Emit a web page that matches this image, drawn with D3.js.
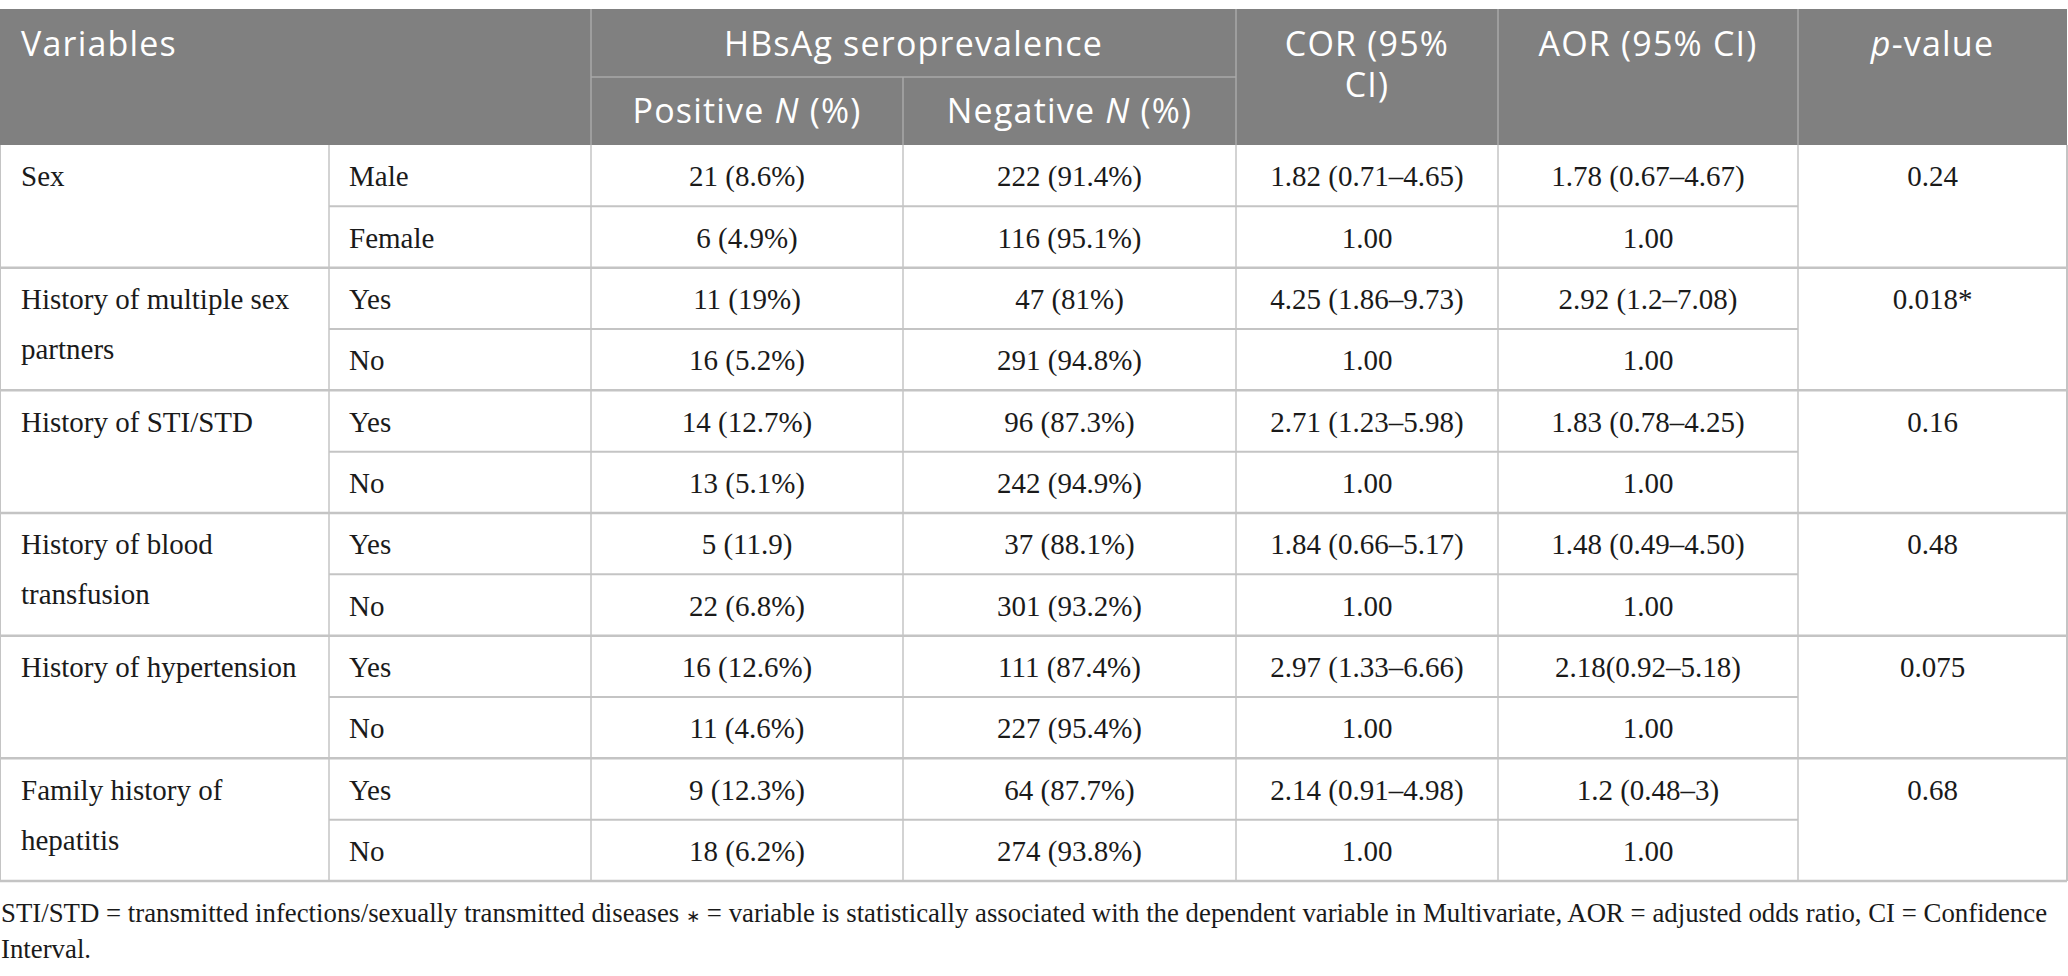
<!DOCTYPE html>
<html>
<head>
<meta charset="utf-8">
<script src="https://cdn.jsdelivr.net/npm/d3@7"></script>
<style>
  html, body { margin: 0; padding: 0; background: #fff; }
  svg { display: block; }
</style>
</head>
<body>
<div id="chart"></div>
<script>
// ---------------- DATA ----------------
const variableLabels = [
  ["Sex"],
  ["History of multiple sex", "partners"],
  ["History of STI/STD"],
  ["History of blood", "transfusion"],
  ["History of hypertension"],
  ["Family history of", "hepatitis"]
];
const levels = [
  ["Male", "Female"],
  ["Yes", "No"],
  ["Yes", "No"],
  ["Yes", "No"],
  ["Yes", "No"],
  ["Yes", "No"]
];
const positiveN = [
  ["21 (8.6%)", "6 (4.9%)"],
  ["11 (19%)", "16 (5.2%)"],
  ["14 (12.7%)", "13 (5.1%)"],
  ["5 (11.9)", "22 (6.8%)"],
  ["16 (12.6%)", "11 (4.6%)"],
  ["9 (12.3%)", "18 (6.2%)"]
];
const negativeN = [
  ["222 (91.4%)", "116 (95.1%)"],
  ["47 (81%)", "291 (94.8%)"],
  ["96 (87.3%)", "242 (94.9%)"],
  ["37 (88.1%)", "301 (93.2%)"],
  ["111 (87.4%)", "227 (95.4%)"],
  ["64 (87.7%)", "274 (93.8%)"]
];
const corValues = [
  ["1.82 (0.71–4.65)", "1.00"],
  ["4.25 (1.86–9.73)", "1.00"],
  ["2.71 (1.23–5.98)", "1.00"],
  ["1.84 (0.66–5.17)", "1.00"],
  ["2.97 (1.33–6.66)", "1.00"],
  ["2.14 (0.91–4.98)", "1.00"]
];
const aorValues = [
  ["1.78 (0.67–4.67)", "1.00"],
  ["2.92 (1.2–7.08)", "1.00"],
  ["1.83 (0.78–4.25)", "1.00"],
  ["1.48 (0.49–4.50)", "1.00"],
  ["2.18(0.92–5.18)", "1.00"],
  ["1.2 (0.48–3)", "1.00"]
];
const pValues = ["0.24", "0.018*", "0.16", "0.48", "0.075", "0.68"];
const footnoteParts = [
  "STI/STD = transmitted infections/sexually transmitted diseases ",
  "\u2217",
  " = variable is statistically associated with the dependent variable in Multivariate, AOR = adjusted odds ratio, CI = Confidence"
];
const footnoteLine2 = "Interval.";

// ---------------- LAYOUT ----------------
const W = 2068, H = 976;
const colEdges = [0, 329, 591, 903, 1236, 1498, 1798, 2067];
const tableTop = 9, headerMid = 77, headerBottom = 145, tableBottom = 881;
const headerBg = "#808080";
const headerLine = "#a8a8a8";
const gridColor = "#c4c4c4";
const serif = "'Liberation Serif', 'Times New Roman', serif";
const sans = "'Open Sans', 'Noto Sans', sans-serif";
const bodySize = 29;
const footSize = 26.8;
const headSize = 34;

const svg = d3.select("#chart").append("svg")
  .attr("width", W).attr("height", H)
  .attr("viewBox", `0 0 ${W} ${H}`);

// row band scale over the 12 sub-rows
const subRowIds = [];
levels.forEach((lv, g) => lv.forEach((_, i) => subRowIds.push(`${g}-${i}`)));
const y = d3.scaleBand().domain(subRowIds).range([headerBottom, tableBottom]).padding(0);
const colX = d3.scaleOrdinal().domain(d3.range(colEdges.length)).range(colEdges);
const colCenter = i => (colX(i) + colX(i + 1)) / 2;

// ---------------- HEADER ----------------
const head = svg.append("g");
head.append("rect")
  .attr("x", colX(0)).attr("y", tableTop)
  .attr("width", colX(7) - colX(0)).attr("height", headerBottom - tableTop)
  .attr("fill", headerBg);

const headerLines = [
  [colX(2), tableTop, colX(2), headerBottom],
  [colX(4), tableTop, colX(4), headerBottom],
  [colX(5), tableTop, colX(5), headerBottom],
  [colX(6), tableTop, colX(6), headerBottom],
  [colX(3), headerMid, colX(3), headerBottom],
  [colX(2), headerMid, colX(4), headerMid]
];
head.selectAll("line.h").data(headerLines).join("line")
  .attr("x1", d => d[0]).attr("y1", d => d[1]).attr("x2", d => d[2]).attr("y2", d => d[3])
  .attr("stroke", headerLine).attr("stroke-width", 1.5);

const headText = (x, yy, anchor) => head.append("text")
  .attr("x", x).attr("y", yy).attr("text-anchor", anchor)
  .attr("font-family", sans).attr("font-size", headSize)
  .attr("letter-spacing", 1.2)
  .attr("fill", "#ffffff");

const row1Base = 56;
const row2Base = 123;
headText(21, row1Base, "start").text("Variables");
headText((colX(2) + colX(4)) / 2, row1Base, "middle").text("HBsAg seroprevalence");
{
  const t = headText(colCenter(2), row2Base, "middle");
  t.append("tspan").text("Positive ");
  t.append("tspan").attr("font-style", "italic").text("N");
  t.append("tspan").text(" (%)");
}
{
  const t = headText(colCenter(3), row2Base, "middle");
  t.append("tspan").text("Negative ");
  t.append("tspan").attr("font-style", "italic").text("N");
  t.append("tspan").text(" (%)");
}
headText(colCenter(4), row1Base, "middle").text("COR (95%");
headText(colCenter(4), row1Base + 41, "middle").text("CI)");
headText(colCenter(5), row1Base, "middle").text("AOR (95% CI)");
{
  const t = headText(colCenter(6), row1Base, "middle");
  t.append("tspan").attr("font-style", "italic").text("p");
  t.append("tspan").text("-value");
}

// ---------------- BODY ----------------
const body = svg.append("g");
const baseOff = 10.5;

levels.forEach((lv, g) => {
  const id1 = `${g}-1`;
  body.append("line")
    .attr("x1", colX(1)).attr("x2", colX(6))
    .attr("y1", y(id1)).attr("y2", y(id1))
    .attr("stroke", gridColor).attr("stroke-width", 2);
  body.append("line")
    .attr("x1", colX(0)).attr("x2", colX(7))
    .attr("y1", y(id1) + y.bandwidth()).attr("y2", y(id1) + y.bandwidth())
    .attr("stroke", gridColor).attr("stroke-width", 2.5);
});
d3.range(colEdges.length).forEach(i => {
  body.append("line")
    .attr("x1", colX(i)).attr("x2", colX(i))
    .attr("y1", headerBottom).attr("y2", tableBottom)
    .attr("stroke", gridColor).attr("stroke-width", (i === 0 || i === 7) ? 2 : 1.5);
});

const bodyText = (x, yy, anchor) => body.append("text")
  .attr("x", x).attr("y", yy).attr("text-anchor", anchor)
  .attr("font-family", serif).attr("font-size", bodySize)
  .attr("fill", "#1a1a1a");

levels.forEach((lv, g) => {
  const firstY = y(`${g}-0`) + y.bandwidth() / 2 + baseOff;
  variableLabels[g].forEach((line, k) => {
    bodyText(colX(0) + 21, firstY + k * 50, "start").text(line);
  });
  lv.forEach((lab, i) => {
    const cy = y(`${g}-${i}`) + y.bandwidth() / 2 + baseOff;
    bodyText(colX(1) + 20, cy, "start").text(lab);
    bodyText(colCenter(2), cy, "middle").text(positiveN[g][i]);
    bodyText(colCenter(3), cy, "middle").text(negativeN[g][i]);
    bodyText(colCenter(4), cy, "middle").text(corValues[g][i]);
    bodyText(colCenter(5), cy, "middle").text(aorValues[g][i]);
  });
  bodyText(colCenter(6), firstY, "middle").text(pValues[g]);
});

// ---------------- FOOTNOTE ----------------
const fn1 = svg.append("text")
  .attr("x", 1).attr("y", 922)
  .attr("font-family", serif).attr("font-size", footSize)
  .attr("fill", "#1a1a1a");
fn1.append("tspan").text(footnoteParts[0]);
fn1.append("tspan").attr("font-family", "'DejaVu Sans', sans-serif").attr("font-size", 17).text(footnoteParts[1]);
fn1.append("tspan").text(footnoteParts[2]);

svg.append("text")
  .attr("x", 1).attr("y", 958)
  .attr("font-family", serif).attr("font-size", footSize)
  .attr("fill", "#1a1a1a")
  .text(footnoteLine2);
</script>
</body>
</html>
